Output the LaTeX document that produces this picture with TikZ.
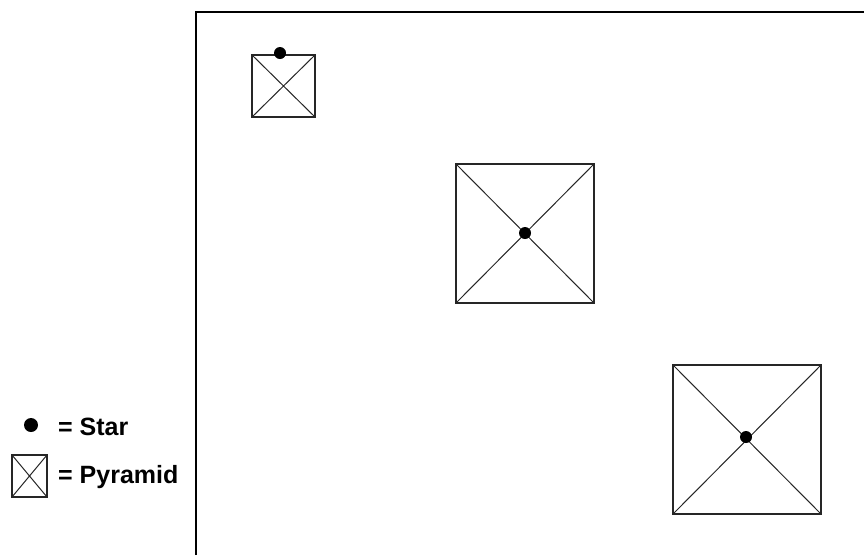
\documentclass[tikz,border=0pt]{standalone}
\usepackage{fontspec}
\setmainfont{Liberation Sans}
\begin{document}
\begin{tikzpicture}[x=1pt,y=-1pt,
  frameline/.style={line width=2pt,draw=black},
  pyr/.style={line width=1.5pt,draw=black!85},
  diag/.style={line width=1pt,draw=black!85},
  star/.style={circle,fill=black,inner sep=0pt,minimum size=12pt},
  legtext/.style={font=\bfseries\fontsize{25}{29}\selectfont,anchor=base west,inner sep=0pt}]
\useasboundingbox (0,0) rectangle (864,555);
% frame
\coordinate (fb) at (196,555);
\coordinate (ft) at (196,12);
\coordinate (fr) at (864,12);
\draw[frameline] (fb) -- (ft) -- (fr);
% small pyramid
\coordinate (a1) at (252,55); \coordinate (a2) at (315,117);
\draw[pyr] (a1) rectangle (a2);
\draw[diag] (a1) -- (a2) (252,117) -- (315,55);
\node[star] (s1) at (280,53) {};
% middle pyramid
\coordinate (b1) at (456,164); \coordinate (b2) at (594,303);
\draw[pyr] (b1) rectangle (b2);
\draw[diag] (b1) -- (b2) (456,303) -- (594,164);
\node[star] (s2) at (525,233) {};
% bottom right pyramid
\coordinate (c1) at (673,365); \coordinate (c2) at (821,514);
\draw[pyr] (c1) rectangle (c2);
\draw[diag] (c1) -- (c2) (673,514) -- (821,365);
\node[star] (s3) at (746,437) {};
% legend
\node[star,minimum size=14pt] (ls) at (31,425) {};
\node[legtext] (lt1) at (58,435) {= Star};
\coordinate (l1) at (12,455); \coordinate (l2) at (47,497);
\draw[pyr] (l1) rectangle (l2);
\draw[diag] (l1) -- (l2) (12,497) -- (47,455);
\node[legtext] (lt2) at (58,483) {= Pyramid};
\end{tikzpicture}
\end{document}
